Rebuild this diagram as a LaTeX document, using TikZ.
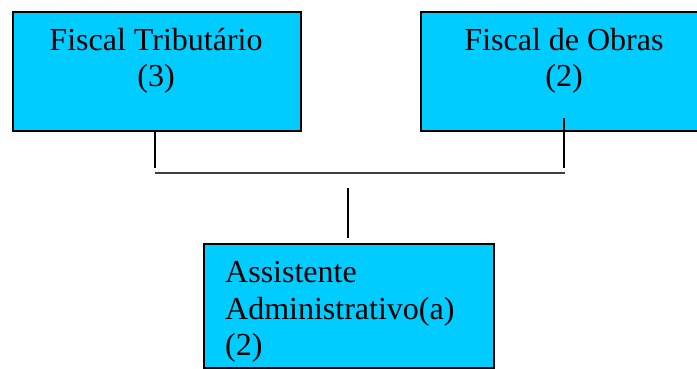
\documentclass[tikz,border=0pt]{standalone}
\usepackage{fontspec}
\setmainfont{Liberation Serif}
\definecolor{boxcyan}{HTML}{00CCFF}
\begin{document}
\begin{tikzpicture}[x=1pt,y=-1pt,
  box/.style={draw=black, line width=2pt, fill=boxcyan, rectangle, inner sep=0pt, anchor=north west},
  txt/.style={anchor=base, inner sep=0pt, font=\fontsize{32}{37}\selectfont},
  conn/.style={draw=black, line width=2pt}]
\clip (0,0) rectangle (697,369);
\node[box, minimum width=288pt, minimum height=119pt] (ft) at (12,11) {};
\node[txt] (ft1) at (156,51) {Fiscal Tributário};
\node[txt] (ft2) at (156,87) {(3)};
\node[box, minimum width=288pt, minimum height=119pt] (fo) at (420,11) {};
\node[txt] (fo1) at (564,51) {Fiscal de Obras};
\node[txt] (fo2) at (564,87) {(2)};
\node[box, minimum width=290pt, minimum height=124pt] (aa) at (203,243) {};
\node[txt, anchor=base west] (aa1) at (225,282) {Assistente};
\node[txt, anchor=base west] (aa2) at (225,319) {Administrativo(a)};
\node[txt, anchor=base west] (aa3) at (225,355) {(2)};
\coordinate (c1) at (155,130);
\coordinate (c1e) at (155,168);
\coordinate (c2) at (564,118);
\coordinate (c2e) at (564,168);
\coordinate (h1) at (155,172.5);
\coordinate (h2) at (565,172.5);
\coordinate (m1) at (348,188);
\coordinate (m2) at (348,238);
\draw[conn] (c1) -- (c1e);
\draw[conn] (c2) -- (c2e);
\draw[conn, draw=black!75] (h1) -- (h2);
\draw[conn] (m1) -- (m2);
\end{tikzpicture}
\end{document}
